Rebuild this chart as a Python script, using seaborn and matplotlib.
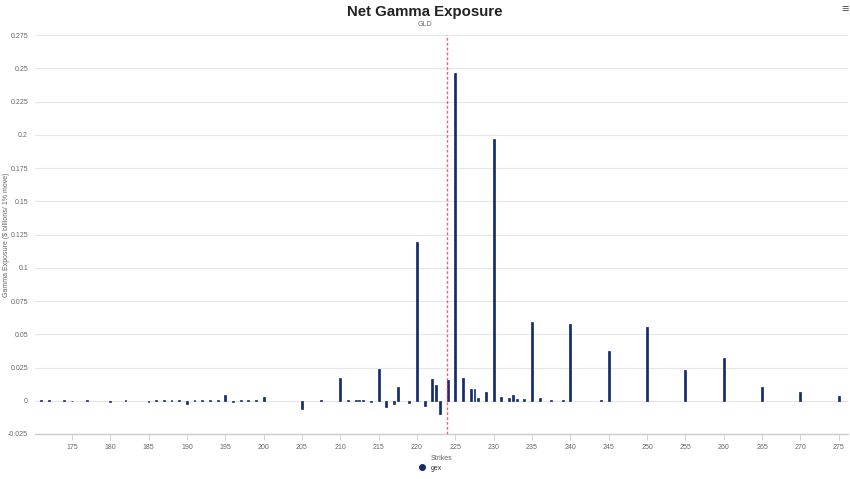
import matplotlib
matplotlib.use("Agg")
import matplotlib.pyplot as plt
from matplotlib.lines import Line2D
from matplotlib.ticker import FuncFormatter, MultipleLocator
import seaborn as sns

# === Данные ===
strikes = [171, 172, 174, 175, 177, 180, 182, 185, 186, 187, 188, 189, 190,
           191, 192, 193, 194, 195, 196, 197, 198, 199, 200, 205, 207.5, 210,
           211, 212, 212.5, 213, 214, 215, 216, 217, 217.5, 219, 220, 221,
           222, 222.5, 223, 224, 225, 226, 227, 227.5, 228, 229, 230, 231,
           232, 232.5, 233, 234, 235, 236, 237.5, 239, 240, 244, 245, 250,
           255, 260, 265, 270, 275]
gex = [0.0002, 0.0002, 0.0002, -0.0005, 0.0002, -0.0008, 0.0002, -0.0008,
       0.0004, 0.0003, 0.0003, 0.0005, -0.0022, 0.0006, 0.0005, 0.0005,
       0.0006, 0.0045, -0.0006, 0.0005, 0.0005, 0.0006, 0.0030, -0.0060,
       0.0005, 0.0173, 0.0005, 0.0006, 0.0005, 0.0006, -0.0008, 0.0240,
       -0.0047, -0.0024, 0.0104, -0.0018, 0.1195, -0.0038, 0.0162, 0.0118,
       -0.0100, 0.0153, 0.2466, 0.0168, 0.0086, 0.0086, 0.0020, 0.0066,
       0.1968, 0.0030, 0.0020, 0.0040, 0.0015, 0.0015, 0.0594, 0.0024,
       0.0004, 0.0004, 0.0580, 0.0005, 0.0374, 0.0554, 0.0234, 0.0323,
       0.0103, 0.0066, 0.0032]
spot_price = 223.9
ticker = "GLD"

BAR_COLOR = "#132c6b"
GRID_COLOR = "#e6e6e6"
TEXT_COLOR = "#666666"

sns.set_theme(style="white")
plt.rcParams["font.family"] = ["Liberation Sans", "DejaVu Sans"]

fig = plt.figure(figsize=(8.5, 4.79), dpi=100)
ax = fig.add_axes([35 / 850, 1 - 434 / 479, 813 / 850, 399 / 479])

sns.barplot(x=strikes, y=gex, native_scale=True, orient="x", width=0.5,
            color=BAR_COLOR, saturation=1, errorbar=None, ax=ax, zorder=3,
            edgecolor=BAR_COLOR, linewidth=0.5)

# Линия текущей цены
ax.axvline(spot_price, color="#ff3344", lw=1.0, ls=(0, (2, 1.5)), zorder=4,
           alpha=0.8)

ax.set_xlim(170.2, 276.2)
ax.set_ylim(-0.025, 0.275)
ax.yaxis.set_major_locator(MultipleLocator(0.025))
ax.set_xticks(range(175, 276, 5))


def fmt(v, pos):
    s = f"{v:.3f}".rstrip("0").rstrip(".")
    return "0" if s in ("-0", "0") else s


ax.yaxis.set_major_formatter(FuncFormatter(fmt))
ax.grid(axis="y", color=GRID_COLOR, lw=0.8, zorder=0)
ax.grid(axis="x", visible=False)
for side in ["top", "right", "left"]:
    ax.spines[side].set_visible(False)
ax.spines["bottom"].set_color("#cccccc")
ax.spines["bottom"].set_linewidth(1)

ax.tick_params(axis="y", labelsize=5, colors=TEXT_COLOR, length=0, pad=5)
ax.tick_params(axis="x", labelsize=5, colors=TEXT_COLOR, length=4,
               width=0.6, pad=3, bottom=True, color="#cccccc")

ax.set_xlabel("Strikes", fontsize=5, color=TEXT_COLOR, labelpad=3)
ax.set_ylabel("Gamma Exposure ($ billions/ 1% move)", fontsize=5,
              color=TEXT_COLOR, va="center")
ax.yaxis.set_label_coords(-29 / 813, 0.5)

# Заголовки
fig.text(0.5, 1 - 12 / 479, "Net Gamma Exposure", ha="center", va="center",
         fontsize=10.8, fontweight="bold", color="#222222")
fig.text(0.5, 1 - 25 / 479, ticker, ha="center", va="center",
         fontsize=5, color=TEXT_COLOR)
fig.text(845 / 850, 1 - 10 / 479, "≡", ha="center", va="center",
         fontsize=9, fontweight="bold", color="#555555")

# Легенда
handle = Line2D([], [], marker="o", ls="", color=BAR_COLOR, markersize=4)
fig.legend([handle], ["gex"], loc="center", bbox_to_anchor=(0.504, 1 - 468 / 479),
           frameon=False, fontsize=5, handletextpad=0.2, labelcolor="#333333")

fig.savefig("out.png", dpi=100)
